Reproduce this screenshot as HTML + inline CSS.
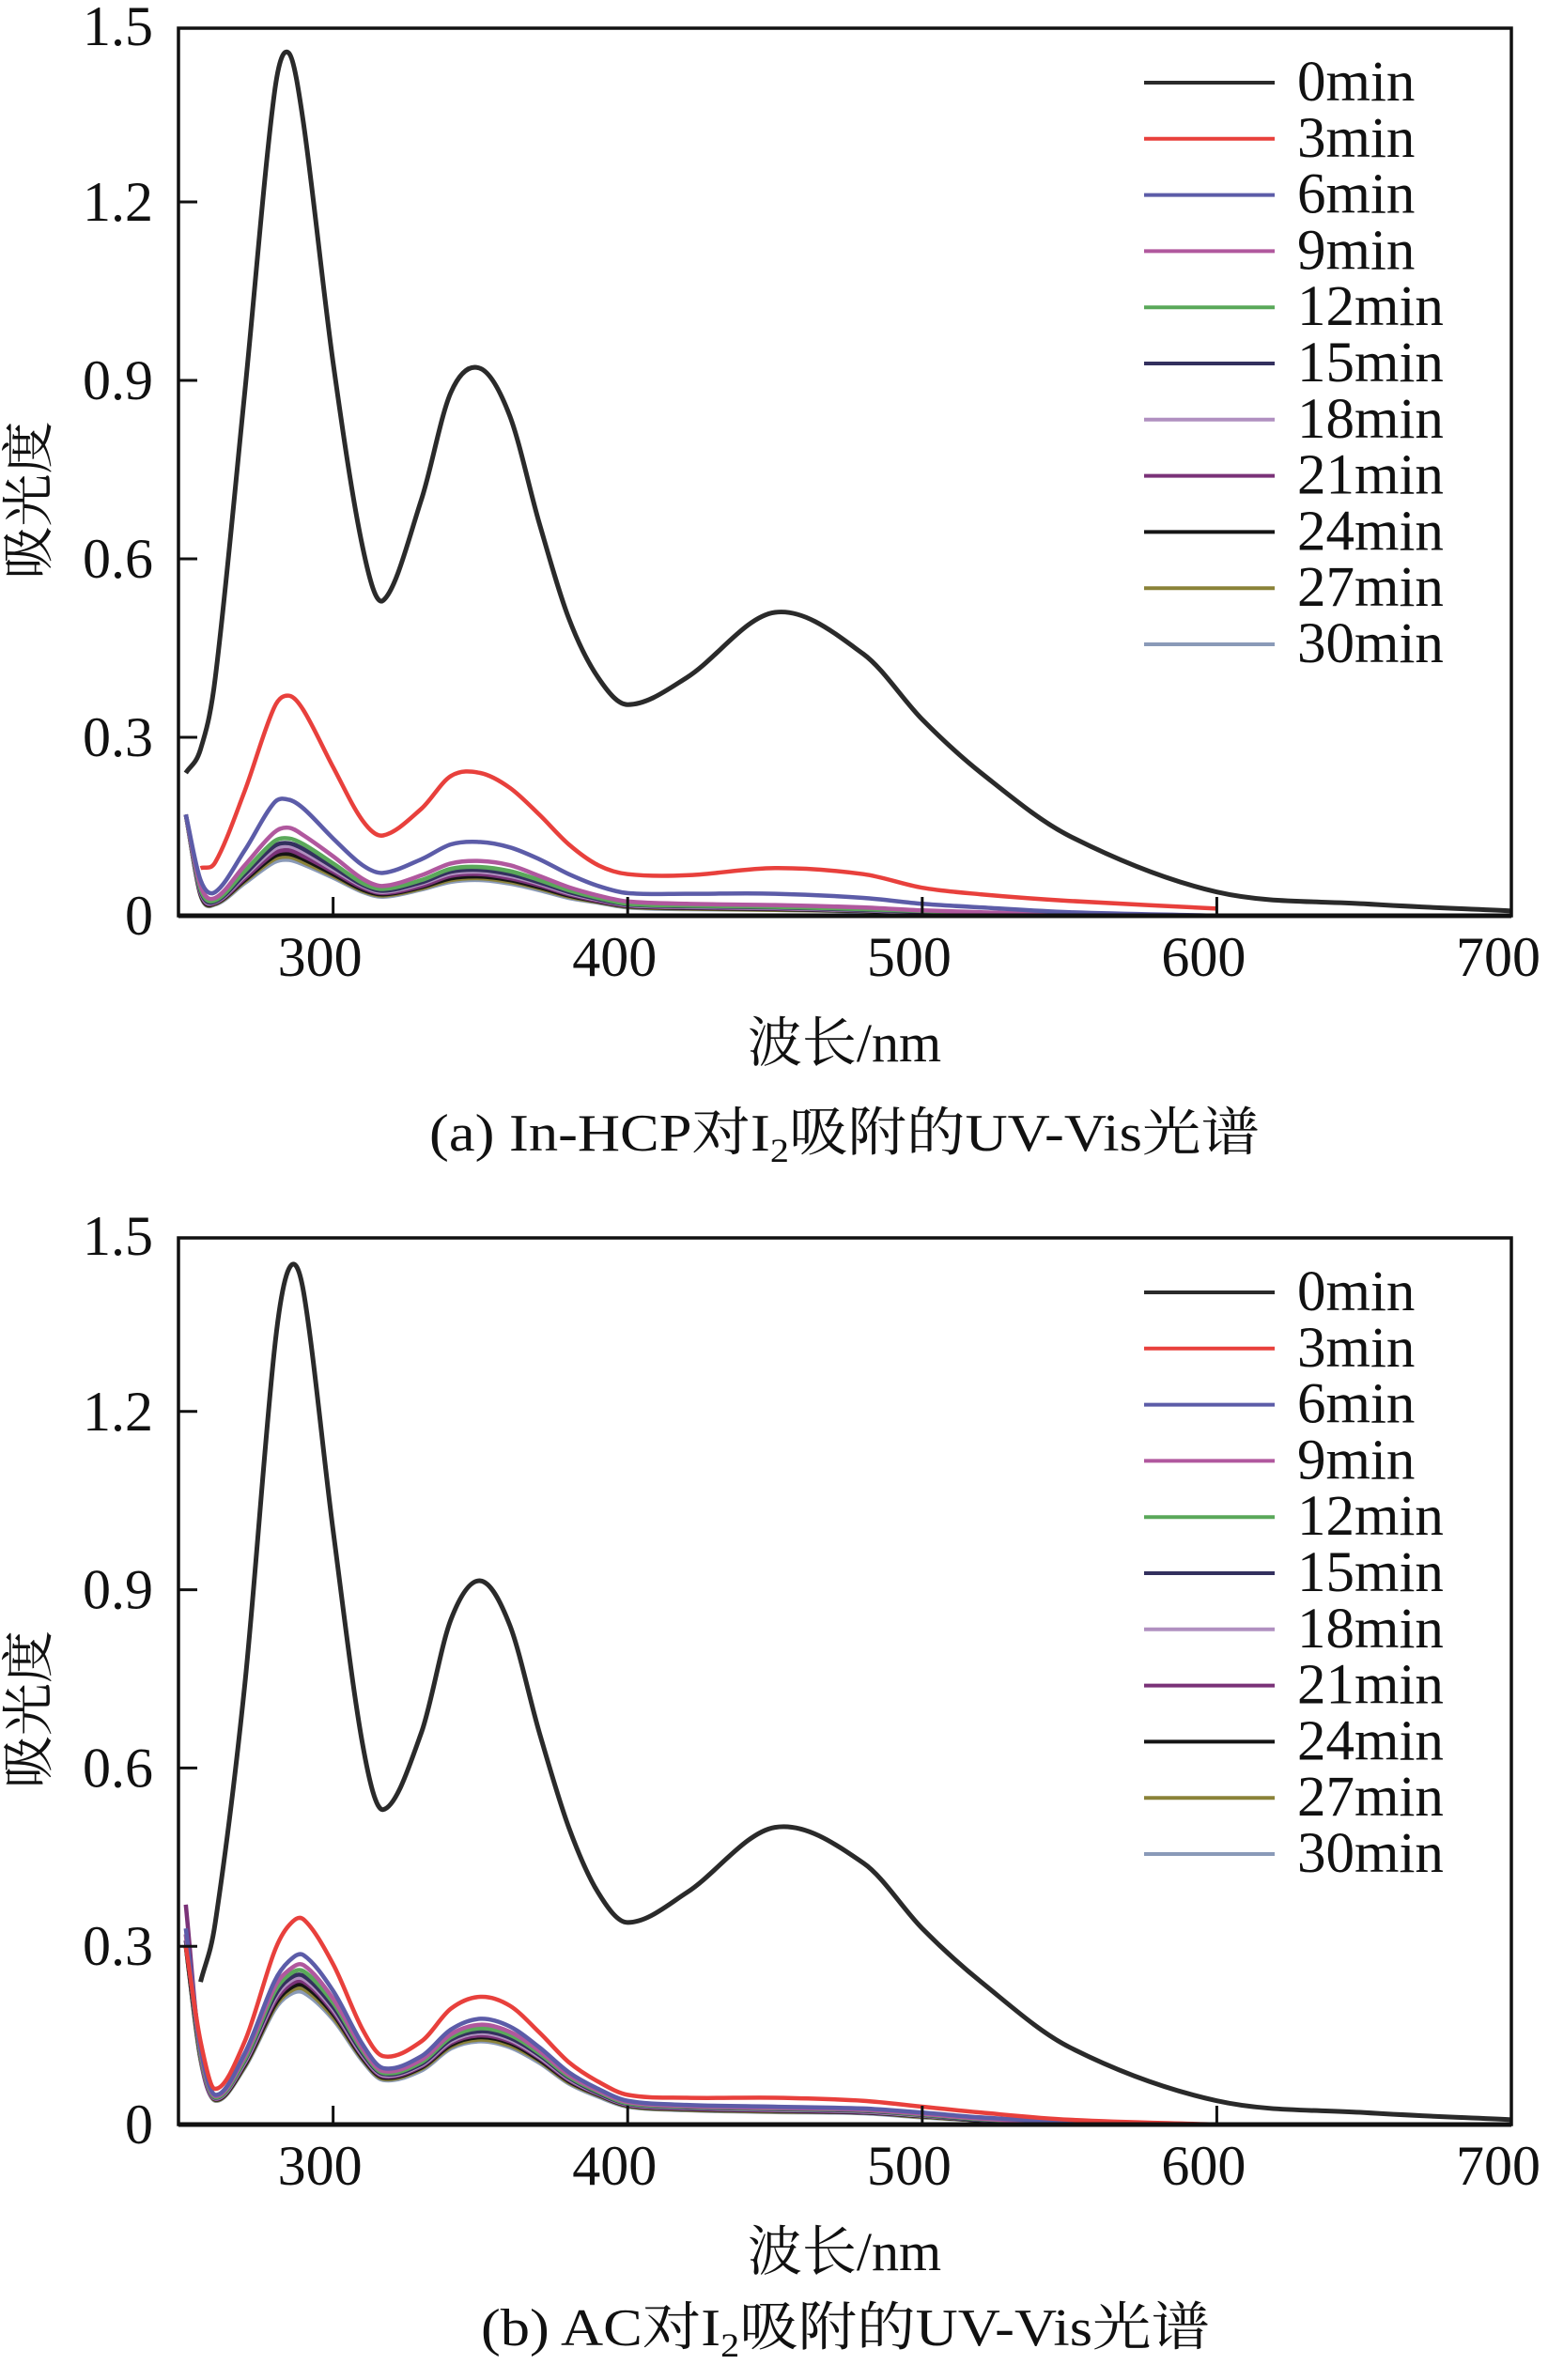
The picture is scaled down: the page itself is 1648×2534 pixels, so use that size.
<!DOCTYPE html>
<html><head><meta charset="utf-8">
<style>
html,body{margin:0;padding:0;background:#fff;}
svg{display:block;}
text{font-family:"Liberation Serif","Noto Serif CJK SC","Noto Sans CJK SC",serif;fill:#111;}
</style></head>
<body>
<svg id="fig" width="1648" height="2534" viewBox="0 0 1648 2534" xmlns="http://www.w3.org/2000/svg"></svg>
<script>
const wavelengths = [250,255,260,270,280,285,290,300,310,317,330,340,350,360,370,380,390,400,420,450,480,500,520,550,600,650,700];
const seriesLabels = ["0min","3min","6min","9min","12min","15min","18min","21min","24min","27min","30min"];
const seriesColors = ["#2a2a2a","#e8403c","#5c5ca8","#b0589e","#5aa85a","#33305e","#b090c0","#7a3278","#151515","#8a8238","#8a9ab8"];
const xTicks = [300,400,500,600,700];
const yTicks = [0,0.3,0.6,0.9,1.2,1.5];
const yTickLabels = ["0","0.3","0.6","0.9","1.2","1.5"];

// Panel (a) In-HCP
const a0  = [0.24,0.28,0.40,0.88,1.38,1.45,1.33,0.93,0.62,0.53,0.70,0.88,0.92,0.84,0.66,0.50,0.40,0.355,0.40,0.51,0.44,0.33,0.24,0.134,0.04,0.02,0.008];
const a3  = [null,0.08,0.09,0.21,0.35,0.37,0.345,0.25,0.16,0.135,0.18,0.235,0.24,0.215,0.17,0.12,0.085,0.07,0.068,0.08,0.07,0.047,0.036,0.025,0.012,null,null];
const a6  = [0.17,0.06,0.04,0.11,0.19,0.195,0.18,0.13,0.085,0.072,0.095,0.12,0.124,0.115,0.095,0.07,0.05,0.038,0.037,0.037,0.03,0.02,0.014,0.006,0.0,null,null];
const a9  = [0.17,0.05,0.03,0.085,0.14,0.148,0.135,0.1,0.062,0.05,0.068,0.088,0.092,0.085,0.067,0.048,0.034,0.024,0.02,0.018,0.014,0.009,0.006,0.002,0,null,null];
const a12 = [0.17,0.045,0.026,0.075,0.125,0.13,0.12,0.088,0.055,0.045,0.06,0.079,0.082,0.075,0.06,0.043,0.03,0.02,0.017,0.015,0.011,0.008,0.005,0.002,0,null,null];
const a15 = [0.17,0.042,0.024,0.07,0.117,0.122,0.112,0.082,0.052,0.042,0.056,0.074,0.077,0.07,0.056,0.04,0.028,0.019,0.016,0.014,0.01,0.007,0.004,0.001,0,null,null];
const a18 = [0.17,0.04,0.023,0.067,0.112,0.117,0.107,0.078,0.05,0.04,0.054,0.071,0.074,0.067,0.054,0.038,0.027,0.018,0.015,0.013,0.009,0.006,0.004,0.001,0,null,null];
const a21 = [0.17,0.038,0.022,0.063,0.105,0.11,0.1,0.074,0.047,0.038,0.05,0.067,0.07,0.063,0.051,0.036,0.025,0.017,0.014,0.012,0.009,0.006,0.003,0.001,0,null,null];
const a24 = [0.17,0.036,0.021,0.06,0.1,0.104,0.095,0.07,0.044,0.036,0.048,0.063,0.066,0.06,0.048,0.034,0.024,0.016,0.013,0.011,0.008,0.005,0.003,0.001,0,null,null];
const a27 = [0.17,0.035,0.02,0.058,0.095,0.099,0.09,0.067,0.042,0.034,0.046,0.06,0.063,0.057,0.046,0.032,0.023,0.015,0.012,0.01,0.008,0.005,0.003,0.001,0,null,null];
const a30 = [0.17,0.034,0.019,0.055,0.09,0.094,0.086,0.064,0.04,0.032,0.044,0.057,0.06,0.054,0.043,0.03,0.022,0.014,0.011,0.01,0.007,0.004,0.002,0.001,0,null,null];

// Panel (b) AC
const b0  = [null,0.24,0.34,0.74,1.30,1.44,1.40,1.00,0.64,0.53,0.66,0.85,0.915,0.84,0.66,0.50,0.39,0.34,0.39,0.50,0.44,0.33,0.24,0.13,0.04,0.02,0.008];
const b3  = [0.30,0.14,0.06,0.14,0.29,0.335,0.345,0.27,0.16,0.115,0.14,0.195,0.215,0.2,0.155,0.105,0.072,0.05,0.045,0.045,0.04,0.03,0.02,0.008,0,null,null];
const b6  = [0.33,0.13,0.05,0.12,0.24,0.275,0.285,0.225,0.135,0.095,0.115,0.16,0.178,0.165,0.13,0.088,0.06,0.04,0.033,0.03,0.027,0.02,0.012,0.004,0,null,null];
const b9  = [0.32,0.125,0.048,0.115,0.23,0.26,0.268,0.212,0.128,0.09,0.109,0.152,0.168,0.156,0.124,0.084,0.057,0.038,0.031,0.028,0.025,0.018,0.01,0.003,0,null,null];
const b12 = [0.32,0.12,0.046,0.11,0.222,0.252,0.258,0.205,0.124,0.087,0.105,0.147,0.162,0.151,0.12,0.081,0.055,0.036,0.03,0.027,0.024,0.017,0.009,0.003,0,null,null];
const b15 = [0.31,0.118,0.045,0.108,0.215,0.245,0.25,0.198,0.12,0.085,0.102,0.143,0.157,0.146,0.117,0.079,0.053,0.035,0.029,0.026,0.023,0.016,0.008,0.003,0,null,null];
const b18 = [0.31,0.116,0.044,0.105,0.21,0.24,0.245,0.194,0.117,0.083,0.1,0.14,0.154,0.143,0.114,0.077,0.052,0.034,0.028,0.025,0.022,0.015,0.008,0.003,0,null,null];
const b21 = [0.37,0.115,0.043,0.103,0.205,0.234,0.24,0.19,0.115,0.081,0.098,0.137,0.15,0.14,0.112,0.075,0.051,0.033,0.027,0.024,0.021,0.015,0.008,0.002,0,null,null];
const b24 = [0.30,0.113,0.042,0.1,0.2,0.228,0.234,0.186,0.112,0.079,0.096,0.134,0.147,0.137,0.109,0.073,0.05,0.032,0.026,0.023,0.02,0.014,0.007,0.002,0,null,null];
const b27 = [0.30,0.11,0.041,0.098,0.196,0.223,0.228,0.181,0.11,0.077,0.094,0.131,0.143,0.133,0.107,0.071,0.049,0.031,0.025,0.022,0.02,0.013,0.007,0.002,0,null,null];
const b30 = [0.30,0.108,0.04,0.096,0.192,0.218,0.222,0.177,0.107,0.075,0.091,0.128,0.14,0.13,0.104,0.069,0.047,0.03,0.024,0.021,0.019,0.012,0.007,0.002,0,null,null];

const seriesA = [a0,a3,a6,a9,a12,a15,a18,a21,a24,a27,a30];
const seriesB = [b0,b3,b6,b9,b12,b15,b18,b21,b24,b27,b30];

const NS = "http://www.w3.org/2000/svg";
const svg = document.getElementById("fig");
const X0 = 190, X1 = 1609, WMIN = 247.5, WMAX = 700;
const YMAX = 1.492;

function mk(tag, attrs, parent, txt) {
  const e = document.createElementNS(NS, tag);
  for (const k in attrs) e.setAttribute(k, attrs[k]);
  if (txt !== undefined) e.textContent = txt;
  parent.appendChild(e);
  return e;
}

function drawPanel(series, top, bottom, tag, caption, captionX0, captionX1, captionY, titleY) {
  const g = mk("g", {}, svg);
  
  
  const xs = w => X0 + (w - WMIN) / (WMAX - WMIN) * (X1 - X0);
  const ys = v => bottom - v / YMAX * (bottom - top);

  const curves = mk("g", {}, g);
  
  
  for (let s = series.length - 1; s >= 0; s--) {
    const pts = [];
    series[s].forEach((v, i) => { if (v !== null) pts.push([xs(wavelengths[i]), ys(v)]); });
    let d = "M" + pts[0][0].toFixed(1) + "," + pts[0][1].toFixed(1);
    for (let i = 0; i < pts.length - 1; i++) {
      const p0 = pts[Math.max(0, i - 1)], p1 = pts[i], p2 = pts[i + 1], p3 = pts[Math.min(pts.length - 1, i + 2)];
      const h = p2[0] - p1[0];
      const m1 = (p2[1] - p0[1]) / Math.max(1, p2[0] - p0[0]);
      const m2 = (p3[1] - p1[1]) / Math.max(1, p3[0] - p1[0]);
      const c1x = p1[0] + h / 3, c1y = p1[1] + m1 * h / 3;
      const c2x = p2[0] - h / 3, c2y = p2[1] - m2 * h / 3;
      d += " C" + c1x.toFixed(1) + "," + c1y.toFixed(1) + " " + c2x.toFixed(1) + "," + c2y.toFixed(1) + " " + p2[0].toFixed(1) + "," + p2[1].toFixed(1);
    }
    const p = mk("path", {d: d, fill: "none", stroke: seriesColors[s], "stroke-width": s === 0 ? 5 : 4.5, "stroke-linejoin": "round"}, curves);
    
    
  }

  const fr = mk("rect", {x: X0, y: top, width: X1 - X0, height: bottom - top, fill: "none", stroke: "#111", "stroke-width": 3.5}, g);
  
  
  mk("line", {x1: X0, y1: bottom, x2: X1, y2: bottom, stroke: "#111", "stroke-width": 5}, g);

  xTicks.forEach((t, i) => {
    const x = xs(t);
    if (t < WMAX) {
      const tk = mk("line", {x1: x, y1: bottom, x2: x, y2: bottom - 20, stroke: "#111", "stroke-width": 3}, g);
      
      
    }
    const lx = Math.min(x - 14, 1600);
    const lb = mk("text", {x: lx, y: bottom + 64, "text-anchor": "middle", "font-size": 60}, g, String(t));
    
    
  });
  yTicks.forEach((t, i) => {
    const y = ys(t);
    if (t > 0 && t < YMAX) {
      const tk = mk("line", {x1: X0, y1: y, x2: X0 + 20, y2: y, stroke: "#111", "stroke-width": 3}, g);
      
      
    }
    const lb = mk("text", {x: 163, y: Math.max(y + 20, top + 18), "text-anchor": "end", "font-size": 60}, g, yTickLabels[i]);
    
    
  });

  const ycy = (top + bottom) / 2 + 30;
  const yt = mk("text", {x: 0, y: 0, "text-anchor": "middle", "font-size": 56, transform: "translate(50," + ycy + ") rotate(-90)"}, g, "吸光度");
  
  
  const xt = mk("text", {x: 899, y: titleY + 20, "text-anchor": "middle", "font-size": 58}, g, "波长/nm");
  
  

  const cap = mk("text", {x: captionX0, y: captionY + 20, "font-size": 56, textLength: captionX1 - captionX0, lengthAdjust: "spacingAndGlyphs"}, g);
  
  
  mk("tspan", {}, cap, caption[0]);
  mk("tspan", {"font-size": 36, dy: 12}, cap, "2");
  mk("tspan", {dy: -12}, cap, caption[1]);

  const lg = mk("g", {}, g);
  
  
  const ly0 = top + 58, lstep = 59.8;
  seriesLabels.forEach((lab, i) => {
    const y = ly0 + i * lstep;
    const ent = mk("g", {}, lg);
    
    
    mk("line", {x1: 1218, y1: y, x2: 1357, y2: y, stroke: seriesColors[i], "stroke-width": 4}, ent);
    mk("text", {x: 1381, y: y + 19, "font-size": 61}, ent, lab);
  });
}

drawPanel(seriesA, 30, 975, "a", ["(a) In-HCP对I", "吸附的UV-Vis光谱"], 457, 1341, 1205, 1110);
drawPanel(seriesB, 1318, 2262, "b", ["(b) AC对I", "吸附的UV-Vis光谱"], 512, 1288, 2477, 2397);
</script>
</body></html>
